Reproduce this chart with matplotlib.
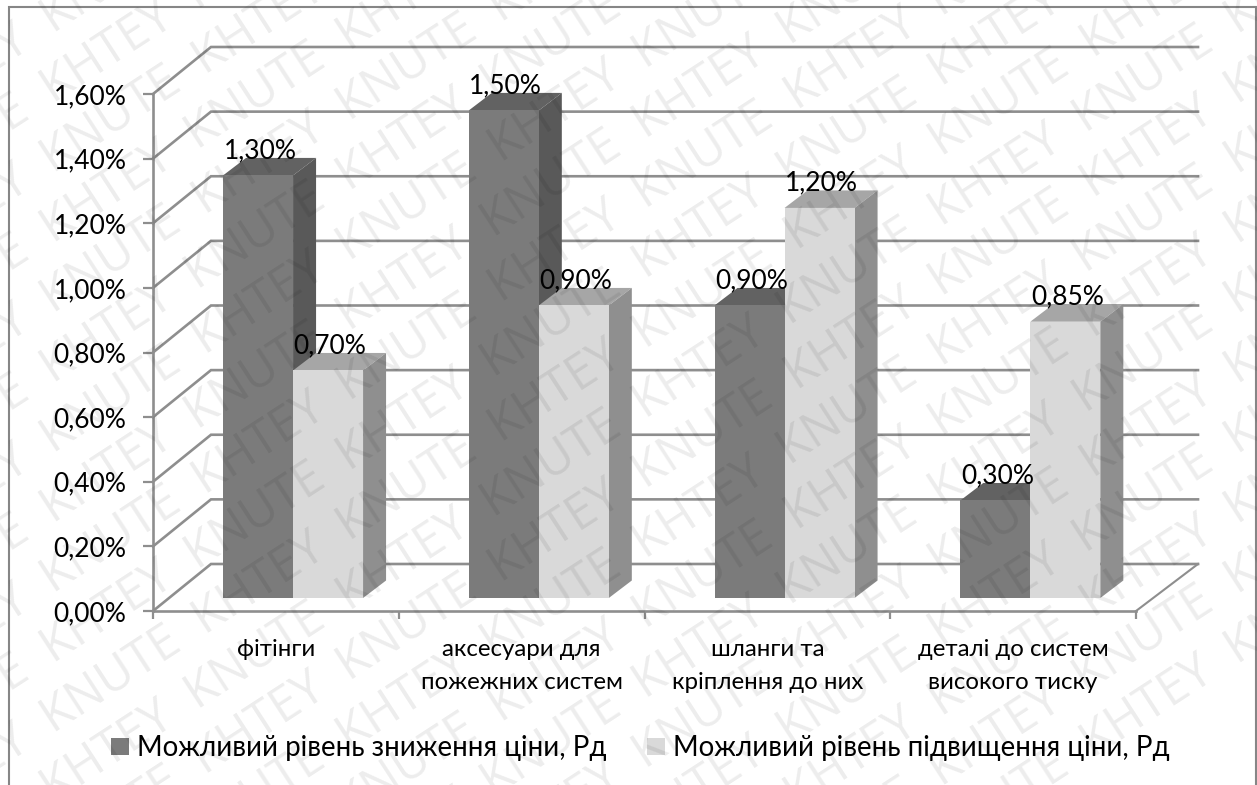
import matplotlib
matplotlib.use('Agg')
import matplotlib.pyplot as plt
from matplotlib.patches import Polygon, Patch, Rectangle

plt.rcParams['font.family'] = ['Lato', 'Open Sans', 'DejaVu Sans']

# Data
categories = ['фітінги', 'аксесуари для\nпожежних систем', 'шланги та\nкріплення до них', 'деталі до систем\nвисокого тиску']
decrease = [1.30, 1.50, 0.90, 0.30]
increase = [0.70, 0.90, 1.20, 0.85]
decrease_labels = ['1,30%', '1,50%', '0,90%', '0,30%']
increase_labels = ['0,70%', '0,90%', '1,20%', '0,85%']
y_ticks = [0, 0.2, 0.4, 0.6, 0.8, 1.0, 1.2, 1.4, 1.6]
y_tick_labels = ['0,00%', '0,20%', '0,40%', '0,60%', '0,80%', '1,00%', '1,20%', '1,40%', '1,60%']
series_names = ['Можливий рівень зниження ціни, Рд', 'Можливий рівень підвищення ціни, Рд']

W, H = 1257, 785
fig = plt.figure(figsize=(W / 100, H / 100), dpi=100, facecolor='white')

# outer chart frame, bottom edge falls outside the picture
fig.add_artist(Rectangle((9 / W, -0.02), 1246.5 / W, 1.02 - 7 / H, transform=fig.transFigure,
                         fill=False, edgecolor='#868686', linewidth=1.5))

# axes box is the front plane of the fake 3d chart
ax = fig.add_axes([153 / W, (H - 611) / H, 983 / W, 517 / H])
ax.set_xlim(0, 4)
ax.set_ylim(0, 1.6)
ax.patch.set_alpha(0)

px_x = 4 / 983    # data units per pixel
px_y = 1.6 / 517
wall_x = 58 * px_x
wall_y = 47 * px_y
wall_end = 4 + 62 * px_x
gap_x = 16 * px_x    # bars stand a bit behind the front plane
gap_y = 13 * px_y
side_x = 23 * px_x   # depth of a bar
side_y = 17.5 * px_y
bar_w = 70 * px_x
bar_start = 0.22
bar_scale = 1.006

grid_c = '#8e8e8e'
for v in y_ticks:
    ax.plot([0, wall_x, wall_end], [v, v + wall_y, v + wall_y], color=grid_c, lw=1.9,
            clip_on=False, zorder=1, solid_joinstyle='miter')
ax.plot([4, wall_end], [0, wall_y], color=grid_c, lw=1.5, clip_on=False, zorder=1)


def draw_bar(x0, val, front, side, top, label):
    x = x0 + gap_x
    y0 = gap_y
    h = val * bar_scale
    y1 = y0 + h
    ax.add_patch(Polygon([(x, y1), (x + side_x, y1 + side_y), (x + bar_w + side_x, y1 + side_y), (x + bar_w, y1)],
                         facecolor=top, edgecolor='none', clip_on=False, zorder=3))
    ax.add_patch(Polygon([(x + bar_w, y0), (x + bar_w + side_x, y0 + side_y), (x + bar_w + side_x, y1 + side_y), (x + bar_w, y1)],
                         facecolor=side, edgecolor='none', clip_on=False, zorder=3))
    ax.add_patch(Rectangle((x, y0), bar_w, h, facecolor=front, edgecolor='none', clip_on=False, zorder=3))
    ax.text(x + bar_w / 2 + 2 * px_x, y1 + side_y, label, ha='center', va='baseline', fontsize=19,
            color='black', zorder=5, clip_on=False)


for i in range(len(categories)):
    draw_bar(i + bar_start, decrease[i], '#7b7b7b', '#595959', '#626262', decrease_labels[i])
    draw_bar(i + bar_start + bar_w, increase[i], '#d9d9d9', '#8f8f8f', '#a6a6a6', increase_labels[i])

for s in ['top', 'right']:
    ax.spines[s].set_visible(False)
for s in ['left', 'bottom']:
    ax.spines[s].set_color(grid_c)
    ax.spines[s].set_linewidth(1.9)
ax.set_yticks(y_ticks)
ax.set_yticklabels(y_tick_labels, fontsize=19)
ax.set_xticks([0, 1, 2, 3, 4])
ax.set_xticklabels([])
ax.set_xticks([0.5, 1.5, 2.5, 3.5], minor=True)
ax.set_xticklabels(categories, minor=True, fontsize=17.3, linespacing=1.72)
ax.tick_params(axis='x', which='minor', length=0, pad=20)
ax.tick_params(axis='x', which='major', length=6, width=1.6, color=grid_c)
ax.tick_params(axis='y', length=7, width=1.6, color=grid_c, pad=12)

handles = [Patch(facecolor='#7b7b7b'), Patch(facecolor='#d9d9d9')]
fig.legend(handles, series_names, ncol=2, frameon=False, fontsize=19.9, loc='center',
           bbox_to_anchor=(640.5 / W, (H - 748) / H), handlelength=0.65, handleheight=0.58,
           handletextpad=0.3, columnspacing=1.45, borderpad=0)

# KNUTE watermark laid over the whole page
for k in range(-10, 20):
    wm = ('KHTEY  KNUTE  ' if k % 2 else 'KNUTE  KHTEY  ') * 6
    fig.text(-250 / W, (k * 70 - 130) / H, wm, rotation=33, rotation_mode='anchor',
             family='Open Sans', fontsize=35, color='black', alpha=0.075, ha='left', va='center', zorder=10)

fig.savefig('out.png', dpi=100)
